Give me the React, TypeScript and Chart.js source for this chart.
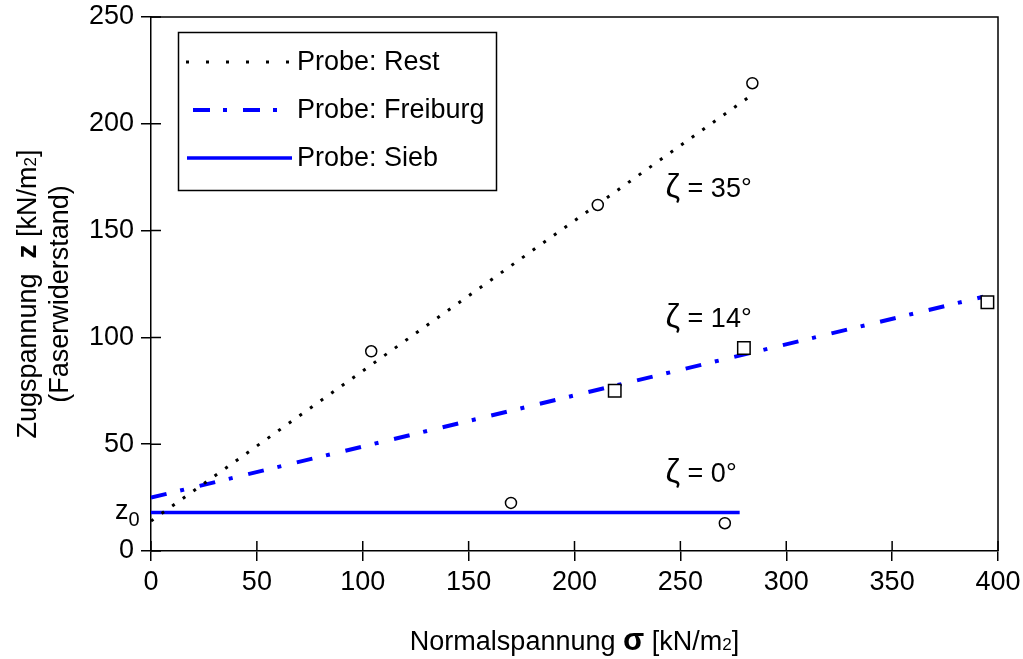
import React, { useEffect, useRef } from "react";
import { Chart, registerables } from "chart.js";

Chart.register(...registerables);

// ---- data ----
const restSigma = [104, 211, 284];
const restZ = [93.5, 162, 219];
const freiburgSigma = [219, 280, 395];
const freiburgZ = [75, 95, 116.5];
const siebSigma = [170, 271];
const siebZ = [22.5, 13];

const restLineSigma = [0, 283];
const restLineZ = [14, 213];
const freiburgLineSigma = [0, 393];
const freiburgLineZ = [25, 119];
const siebLineSigma = [0, 278];
const siebLineZ = [18, 18];

const xTicks = [0, 50, 100, 150, 200, 250, 300, 350, 400];
const yTicks = [0, 50, 100, 150, 200, 250];
const z0Value = 18;

const legendLabels = ["Probe: Rest", "Probe: Freiburg", "Probe: Sieb"];
const angleLabels = ["35°", "14°", "0°"];
const angleSigma = [243, 243, 243];
const angleZ = [170, 109, 36.5];

const FONT = "'Liberation Sans', Arial, Helvetica, sans-serif";
const BLUE = "#0000ff";

const pts = (xs: number[], ys: number[]) => xs.map((x, i) => ({ x, y: ys[i] }));

type Seg = { t: string; f: string; dy?: number };

function drawSegs(ctx: CanvasRenderingContext2D, segs: Seg[], x: number, y: number, align: "left" | "center") {
  let total = 0;
  const widths = segs.map((s) => {
    ctx.font = s.f;
    const w = ctx.measureText(s.t).width;
    total += w;
    return w;
  });
  let cx = align === "center" ? x - total / 2 : x;
  ctx.textAlign = "left";
  ctx.textBaseline = "alphabetic";
  segs.forEach((s, i) => {
    ctx.font = s.f;
    ctx.fillText(s.t, cx, y + (s.dy || 0));
    cx += widths[i];
  });
}

const decorPlugin = {
  id: "decor",
  afterDatasetsDraw(chart: any) {
    const ctx: CanvasRenderingContext2D = chart.ctx;
    const { left, right, top, bottom } = chart.chartArea;
    const xs = chart.scales.x;
    const ys = chart.scales.y;
    ctx.save();
    ctx.strokeStyle = "#000";
    ctx.fillStyle = "#000";
    ctx.lineWidth = 1.5;
    // frame top/right
    ctx.beginPath();
    ctx.moveTo(left, top);
    ctx.lineTo(right, top);
    ctx.lineTo(right, bottom);
    ctx.stroke();
    // inner tick parts
    ctx.beginPath();
    xTicks.forEach((v) => {
      const px = xs.getPixelForValue(v);
      ctx.moveTo(px, bottom);
      ctx.lineTo(px, bottom - 10);
    });
    yTicks.forEach((v) => {
      const py = ys.getPixelForValue(v);
      ctx.moveTo(left, py);
      ctx.lineTo(left + 10, py);
    });
    ctx.stroke();

    // z0 label
    const zy = ys.getPixelForValue(z0Value);
    drawSegs(ctx, [
      { t: "z", f: `27px ${FONT}` },
      { t: "0", f: `20px ${FONT}`, dy: 7 },
    ], 115, zy + 6, "left");

    // legend
    ctx.lineWidth = 1.5;
    ctx.strokeRect(178.5, 32.5, 318, 158);
    const rowsY = [62, 110, 158];
    const dashes = [[3, 17], [17, 13, 4, 16], []];
    const colors = ["#000", BLUE, BLUE];
    const widths = [3, 4, 3.5];
    rowsY.forEach((ry, i) => {
      ctx.save();
      ctx.strokeStyle = colors[i];
      ctx.lineWidth = widths[i];
      ctx.setLineDash(dashes[i]);
      ctx.beginPath();
      if (i === 1) {
        ctx.moveTo(193, ry);
        ctx.lineTo(290, ry);
      } else {
        ctx.moveTo(i === 0 ? 186 : 187, ry);
        ctx.lineTo(292, ry);
      }
      ctx.stroke();
      ctx.restore();
      ctx.font = `27px ${FONT}`;
      ctx.textAlign = "left";
      ctx.textBaseline = "middle";
      ctx.fillStyle = "#000";
      ctx.fillText(legendLabels[i], 297, ry + 1);
    });

    // angle annotations
    angleLabels.forEach((lab, i) => {
      const px = xs.getPixelForValue(angleSigma[i]);
      const py = ys.getPixelForValue(angleZ[i]);
      drawSegs(ctx, [
        { t: "ζ", f: `33px ${FONT}` },
        { t: " = " + lab, f: `27px ${FONT}` },
      ], px, py + 9, "left");
    });

    // x title
    drawSegs(ctx, [
      { t: "Normalspannung ", f: `27px ${FONT}` },
      { t: "σ", f: `bold 31px ${FONT}` },
      { t: " [kN/m", f: `27px ${FONT}` },
      { t: "2", f: `17px ${FONT}` },
      { t: "]", f: `27px ${FONT}` },
    ], (left + right) / 2, 650, "center");

    // y title
    ctx.save();
    ctx.translate(0, (top + bottom) / 2 + 10);
    ctx.rotate(-Math.PI / 2);
    drawSegs(ctx, [
      { t: "Zugspannung  ", f: `27px ${FONT}` },
      { t: "z", f: `bold 28px ${FONT}` },
      { t: " [kN/m", f: `27px ${FONT}` },
      { t: "2", f: `17px ${FONT}` },
      { t: "]", f: `27px ${FONT}` },
    ], 0, 36, "center");
    drawSegs(ctx, [{ t: "(Faserwiderstand)", f: `27px ${FONT}` }], 0, 68, "center");
    ctx.restore();

    ctx.restore();
  },
};

export default function App() {
  const ref = useRef<HTMLCanvasElement | null>(null);
  useEffect(() => {
    if (!ref.current) return;
    const chart = new Chart(ref.current, {
      type: "scatter",
      data: {
        datasets: [
          {
            label: "Rest line",
            data: pts(restLineSigma, restLineZ),
            showLine: true,
            borderColor: "#000",
            borderWidth: 3,
            borderDash: [3, 10],
            pointRadius: 0,
            order: 2,
          },
          {
            label: "Freiburg line",
            data: pts(freiburgLineSigma, freiburgLineZ),
            showLine: true,
            borderColor: BLUE,
            borderWidth: 4,
            borderDash: [16, 14, 4, 16],
            pointRadius: 0,
            order: 2,
          },
          {
            label: "Sieb line",
            data: pts(siebLineSigma, siebLineZ),
            showLine: true,
            borderColor: BLUE,
            borderWidth: 3.5,
            pointRadius: 0,
            order: 2,
          },
          {
            label: "Rest",
            data: pts(restSigma, restZ),
            pointStyle: "circle",
            pointRadius: 5.5,
            borderColor: "#000",
            backgroundColor: "#fff",
            borderWidth: 1.5,
            order: 1,
          },
          {
            label: "Freiburg",
            data: pts(freiburgSigma, freiburgZ),
            pointStyle: "rect",
            pointRadius: 8.8,
            borderColor: "#000",
            backgroundColor: "#fff",
            borderWidth: 1.5,
            order: 1,
          },
          {
            label: "Sieb",
            data: pts(siebSigma, siebZ),
            pointStyle: "circle",
            pointRadius: 5.5,
            borderColor: "#000",
            backgroundColor: "#fff",
            borderWidth: 1.5,
            order: 1,
          },
        ],
      },
      options: {
        responsive: false,
        animation: false,
        layout: { padding: { top: 17, right: 25, left: 0, bottom: 0 } },
        plugins: { legend: { display: false }, tooltip: { enabled: false } },
        scales: {
          x: {
            type: "linear",
            min: 0,
            max: 400,
            afterFit: (s: any) => {
              s.height = 108;
              s.paddingLeft = 0;
              s.paddingRight = 0;
              s.paddingTop = 0;
              s.paddingBottom = 0;
            },
            afterBuildTicks: (s: any) => {
              s.ticks = xTicks.map((v) => ({ value: v }));
            },
            ticks: { color: "#000", font: { family: FONT, size: 27 }, padding: 5, maxRotation: 0 },
            grid: { drawOnChartArea: false, drawTicks: true, tickLength: 10, color: "#000", lineWidth: 1.5 },
            border: { display: true, color: "#000", width: 1.5 },
          },
          y: {
            type: "linear",
            min: 0,
            max: 250,
            afterFit: (s: any) => {
              s.width = 151;
              s.paddingLeft = 0;
              s.paddingRight = 0;
              s.paddingTop = 0;
              s.paddingBottom = 0;
            },
            afterBuildTicks: (s: any) => {
              s.ticks = yTicks.map((v) => ({ value: v }));
            },
            ticks: { color: "#000", font: { family: FONT, size: 27 }, padding: 7 },
            grid: { drawOnChartArea: false, drawTicks: true, tickLength: 10, color: "#000", lineWidth: 1.5 },
            border: { display: true, color: "#000", width: 1.5 },
          },
        },
      },
      plugins: [decorPlugin],
    } as any);
    return () => chart.destroy();
  }, []);
  return (
    <div style={{ position: "fixed", left: 0, top: 0, width: 1023, height: 659, background: "#fff" }}>
      <canvas ref={ref} width={1023} height={659} style={{ display: "block" }} />
    </div>
  );
}
